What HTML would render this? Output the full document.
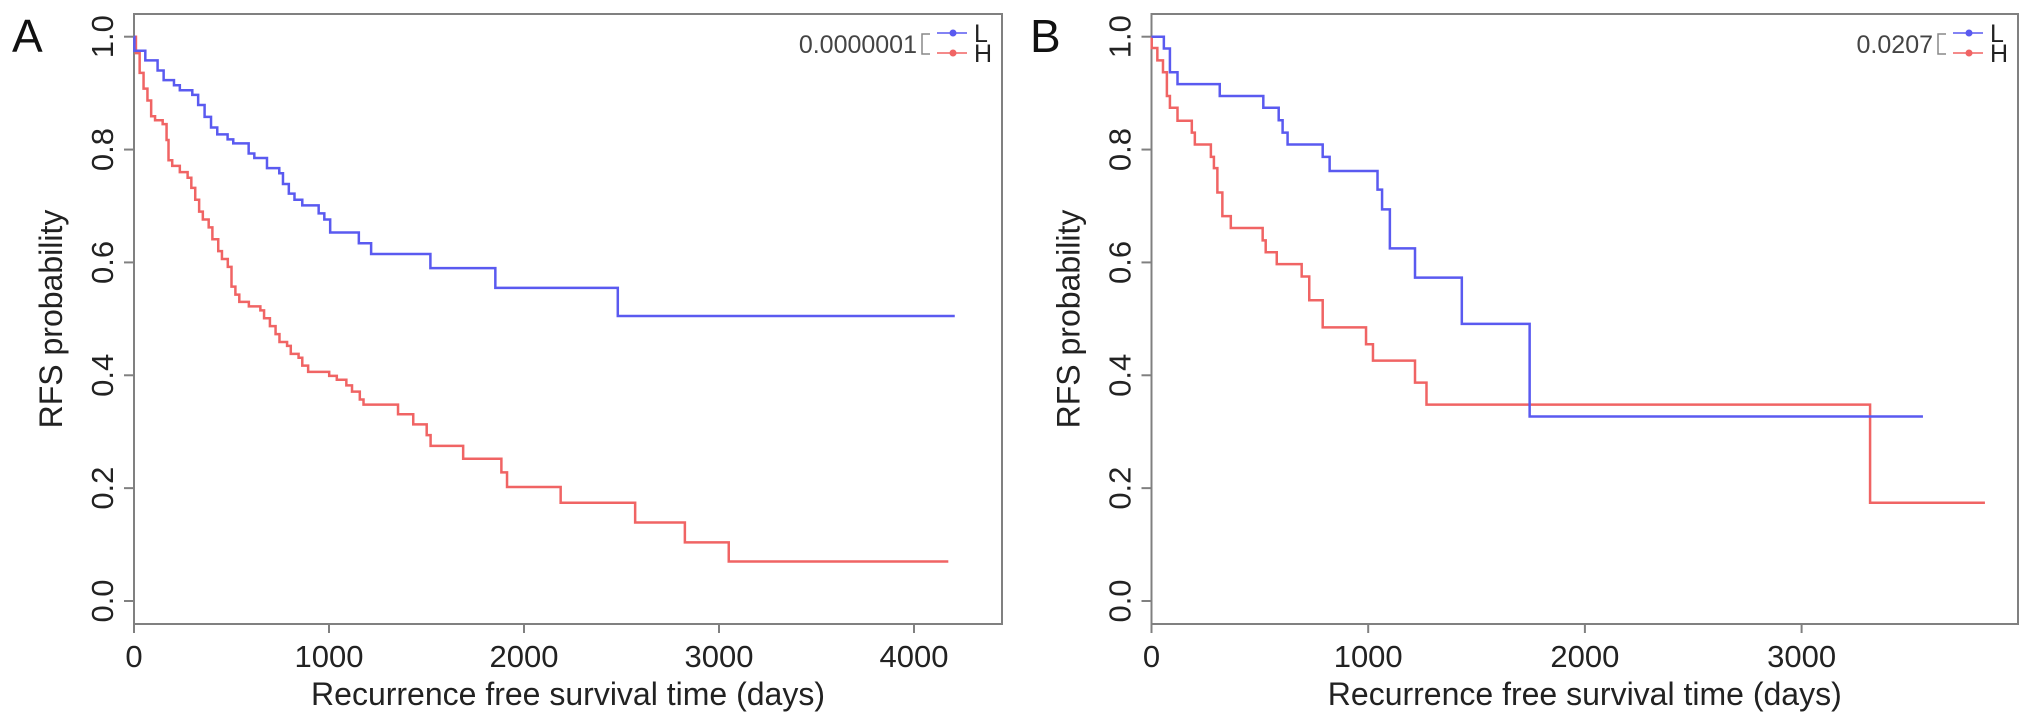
<!DOCTYPE html>
<html><head><meta charset="utf-8">
<style>
html,body{margin:0;padding:0;background:#fff;}
svg{display:block;font-family:"Liberation Sans",Arial,sans-serif;}
</style></head>
<body>
<svg id="chart" width="2032" height="725" viewBox="0 0 2032 725" xmlns="http://www.w3.org/2000/svg"></svg>
<script>
// Panel A data
const aLowDays = [0, 2, 58, 121, 152, 205, 235, 299, 329, 362, 395, 427, 480, 509, 588, 617, 682, 745, 764, 794, 823, 863, 947, 976, 1006, 1153, 1216, 1520, 1853, 2481];
const aLowSurv = [1.0, 0.975, 0.958, 0.940, 0.923, 0.914, 0.905, 0.897, 0.879, 0.858, 0.839, 0.827, 0.818, 0.811, 0.793, 0.785, 0.767, 0.758, 0.739, 0.722, 0.711, 0.701, 0.687, 0.676, 0.653, 0.634, 0.615, 0.590, 0.555, 0.505];
const aLowEnd = 4209;
const aHighDays = [0, 10, 29, 49, 69, 88, 108, 147, 167, 177, 196, 235, 275, 294, 314, 334, 353, 383, 402, 432, 451, 481, 500, 520, 540, 589, 648, 667, 697, 726, 746, 785, 804, 844, 863, 893, 1001, 1040, 1089, 1118, 1158, 1177, 1354, 1432, 1501, 1521, 1688, 1884, 1913, 2188, 2570, 2825, 3050];
const aHighSurv = [1.0, 0.971, 0.936, 0.908, 0.887, 0.859, 0.852, 0.845, 0.817, 0.781, 0.771, 0.760, 0.750, 0.732, 0.711, 0.690, 0.676, 0.662, 0.641, 0.620, 0.606, 0.592, 0.557, 0.543, 0.530, 0.522, 0.515, 0.501, 0.487, 0.473, 0.459, 0.452, 0.438, 0.431, 0.417, 0.406, 0.399, 0.392, 0.382, 0.371, 0.357, 0.348, 0.331, 0.313, 0.294, 0.275, 0.252, 0.228, 0.202, 0.174, 0.139, 0.104, 0.070];
const aHighEnd = 4176;
// Panel B data
const bLowDays = [0, 57, 85, 120, 315, 516, 587, 605, 628, 790, 822, 1043, 1064, 1100, 1216, 1432, 1745];
const bLowSurv = [1.0, 0.979, 0.937, 0.916, 0.895, 0.874, 0.852, 0.830, 0.809, 0.787, 0.762, 0.729, 0.694, 0.625, 0.573, 0.491, 0.327];
const bLowEnd = 3560;
const bHighDays = [0, 1, 27, 53, 71, 85, 120, 186, 200, 274, 288, 304, 327, 366, 513, 527, 578, 693, 728, 790, 990, 1022, 1216, 1269, 3316];
const bHighSurv = [1.0, 0.980, 0.958, 0.937, 0.895, 0.874, 0.851, 0.830, 0.809, 0.787, 0.767, 0.724, 0.682, 0.661, 0.639, 0.618, 0.597, 0.575, 0.533, 0.485, 0.455, 0.426, 0.387, 0.348, 0.174];
const bHighEnd = 3846;
// Tick labels
const yTicks = [0.0, 0.2, 0.4, 0.6, 0.8, 1.0];
const aXTicks = [0, 1000, 2000, 3000, 4000];
const bXTicks = [0, 1000, 2000, 3000];
const pValA = "0.0000001";
const pValB = "0.0207";

const NS = "http://www.w3.org/2000/svg";
const svg = document.getElementById('chart');
function mk(tag, attrs, parent){
  const e = document.createElementNS(NS, tag);
  for (const k in attrs) e.setAttribute(k, attrs[k]);
  (parent||svg).appendChild(e);
  return e;
}
const yScale = v => 601 - v * 564.3;
const BLUE = '#5a5af0', RED = '#f06464', AX = '#808080';

function stepPath(xs, days, surv, end){
  let d = 'M' + xs(days[0]) + ',' + yScale(surv[0]);
  for (let i = 1; i < days.length; i++){
    d += ' H' + xs(days[i]) + ' V' + yScale(surv[i]);
  }
  d += ' H' + xs(end);
  return d;
}

function panel(cfg){
  const g = mk('g', {});
  
  
  const xs = d => cfg.x0 + d * cfg.k;
  const box = mk('rect', {x: cfg.x0, y: 14, width: cfg.x1 - cfg.x0, height: 610, fill: 'none', stroke: AX, 'stroke-width': 2}, g);
  
  
  yTicks.forEach(v => {
    const t = mk('line', {x1: cfg.x0 - 10, x2: cfg.x0, y1: yScale(v), y2: yScale(v), stroke: AX, 'stroke-width': 2}, g);
    
    
    const yy = yScale(v);
    const lb = mk('text', {x: 0, y: 0, transform: 'translate(' + (cfg.x0 - 21) + ',' + yy + ') rotate(-90)', 'text-anchor': 'middle', 'font-size': 31, fill: '#222'}, g);
    lb.textContent = v.toFixed(1);
    
    
  });
  cfg.xticks.forEach(v => {
    const t = mk('line', {x1: xs(v), x2: xs(v), y1: 624, y2: 633, stroke: AX, 'stroke-width': 2}, g);
    
    
    const lb = mk('text', {x: xs(v), y: 667, 'text-anchor': 'middle', 'font-size': 31, fill: '#222'}, g);
    lb.textContent = String(v);
    
    
  });
  const xt = mk('text', {x: (cfg.x0 + cfg.x1) / 2, y: 705, 'text-anchor': 'middle', 'font-size': 32, fill: '#222'}, g);
  xt.textContent = 'Recurrence free survival time (days)';
  
  
  const yt = mk('text', {x: 0, y: 0, transform: 'translate(' + (cfg.x0 - 72) + ',319) rotate(-90)', 'text-anchor': 'middle', 'font-size': 32, fill: '#222'}, g);
  yt.textContent = 'RFS probability';
  
  
  const pl = mk('text', {x: cfg.labelX, y: 52, 'font-size': 46, fill: '#111'}, g);
  pl.textContent = cfg.label;
  
  
  const hi = mk('path', {d: stepPath(xs, cfg.hDays, cfg.hSurv, cfg.hEnd), fill: 'none', stroke: RED, 'stroke-width': 2.5}, g);
  
  
  const lo = mk('path', {d: stepPath(xs, cfg.lDays, cfg.lSurv, cfg.lEnd), fill: 'none', stroke: BLUE, 'stroke-width': 2.5}, g);
  
  
  // legend
  const lg = mk('g', {}, g);
  
  
  const L = cfg.x1 - 65;
  const pv = mk('text', {x: L - 20, y: 53, 'text-anchor': 'end', 'font-size': 25, fill: '#444'}, lg);
  pv.textContent = cfg.pval;
  
  
  mk('path', {d: 'M' + (L - 7) + ',34 H' + (L - 15) + ' V54 H' + (L - 7), fill: 'none', stroke: '#888', 'stroke-width': 1.5}, lg);
  [[33, BLUE, 'L'], [53, RED, 'H']].forEach(([yy, c, t]) => {
    const e = mk('line', {x1: L, x2: L + 30, y1: yy, y2: yy, stroke: c, 'stroke-width': 1.5}, lg);
    
    
    mk('circle', {cx: L + 16, cy: yy, r: 3.5, fill: c}, lg);
    const tx = mk('text', {x: L + 37, y: yy + 9, 'font-size': 25, fill: '#222'}, lg);
    tx.textContent = t;
    
    
  });
}

panel({name: 'panel-a', label: 'A', labelX: 12, x0: 134, x1: 1002, k: 0.195, xticks: aXTicks, pval: pValA,
  lDays: aLowDays, lSurv: aLowSurv, lEnd: aLowEnd, hDays: aHighDays, hSurv: aHighSurv, hEnd: aHighEnd});
panel({name: 'panel-b', label: 'B', labelX: 1030, x0: 1151.5, x1: 2018, k: 0.2167, xticks: bXTicks, pval: pValB,
  lDays: bLowDays, lSurv: bLowSurv, lEnd: bLowEnd, hDays: bHighDays, hSurv: bHighSurv, hEnd: bHighEnd});
</script>
</body></html>
